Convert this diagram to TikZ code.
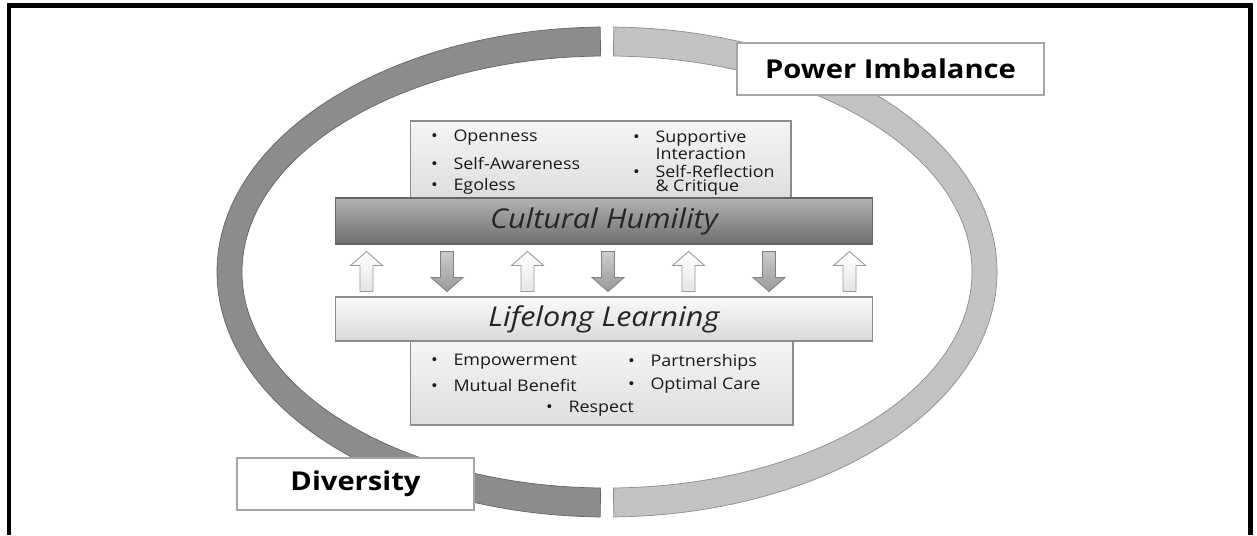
\documentclass[tikz,border=0pt]{standalone}
\usepackage{fontspec}
\setmainfont[FakeStretch=1.12]{Open Sans}
\usetikzlibrary{calc, positioning}
\newcommand\bul{\makebox[0.45cm][l]{\textbullet}}
\newcommand\nobul{\hspace*{0.45cm}}

\begin{document}
\begin{tikzpicture}[>=stealth, semithick, x=0.02cm, y=0.02cm]
    \tikzset{
        ringl/.style={fill=black!45, draw=black!60, line width=0.4pt},
        ringr/.style={fill=black!24, draw=black!45, line width=0.4pt},
        tagbox/.style={draw=black!35, line width=1.4pt, fill=white, inner sep=0pt,
            minimum height=1.04cm, font=\fontsize{14.8}{17}\selectfont\bfseries},
        listbox/.style={draw=black!45, line width=0.6pt, top color=black!4, bottom color=black!13, inner sep=0pt},
        item/.style={anchor=west, inner sep=0pt, align=left, text=black!90,
            font=\fontsize{9.1}{8}\selectfont},
        chbar/.style={draw=black!60, line width=0.6pt, top color=black!30, middle color=black!44,
            bottom color=black!57, inner sep=0pt, minimum width=10.76cm, minimum height=0.92cm,
            text=black!85, font=\fontsize{15.5}{18}\selectfont\itshape},
        llbar/.style={draw=black!45, line width=0.6pt, top color=black!2, bottom color=black!15,
            inner sep=0pt, minimum width=10.76cm, minimum height=0.88cm,
            text=black!85, font=\fontsize{15.5}{18}\selectfont\itshape},
        uparr/.style={draw=black!40, line width=0.5pt, top color=white, bottom color=black!10},
        downarr/.style={draw=black!50, line width=0.5pt, top color=black!20, bottom color=black!40}
    }
    \useasboundingbox (0,0) rectangle (1257,535);
    \draw[line width=0.1cm] (9,0) -- (9,529) -- (1250,529) -- (1250,0);

    \begin{scope}[shift={(607,263)}]
        \filldraw[ringl] (91:390 and 245) arc[start angle=91, end angle=269, x radius=390, y radius=245]
            -- (269:365 and 216) arc[start angle=269, end angle=91, x radius=365, y radius=216] -- cycle;
        \filldraw[ringr] (-89:390 and 245) arc[start angle=-89, end angle=89, x radius=390, y radius=245]
            -- (89:365 and 216) arc[start angle=89, end angle=-89, x radius=365, y radius=216] -- cycle;
    \end{scope}

    \node[tagbox, minimum width=6.14cm] (power) at (890.5,466) {Power Imbalance};
    \node[tagbox, minimum width=4.74cm] (div) at (355.5,51) {Diversity};

    \node[listbox, minimum width=7.62cm, minimum height=1.54cm] (top) at (600.5,375.5) {};
    \node[listbox, minimum width=7.66cm, minimum height=1.68cm] (bot) at (601.5,152) {};

    \node[chbar] (ch) at (604,314) {Cultural Humility};
    \node[llbar] (ll) at (604,216) {Lifelong Learning};

    \node[item] (open) at (430.5,397) {\bul Openness};
    \node[item] (aware) at (430.5,372) {\bul Self-Awareness};
    \node[item] (ego) at (430.5,349) {\bul Egoless};
    \node[item] (supp) at (632.5,390) {\bul Supportive\\\nobul Interaction};
    \node[item] (refl) at (632.5,355) {\bul Self-Reflection\\\nobul \& Critique};

    \node[item] (emp) at (430.5,173) {\bul Empowerment};
    \node[item] (mut) at (430.5,150) {\bul Mutual Benefit};
    \node[item] (part) at (627.5,173) {\bul Partnerships};
    \node[item] (care) at (627.5,150) {\bul Optimal Care};
    \node[item] (resp) at (545.5,126) {\bul Respect};

    \foreach \i in {0,...,6}
        \coordinate (a\i) at ($(ll.north west)+(32+80.5*\i,5)$);
    \foreach \i in {0,2,4,6}
        \draw[uparr, shift={(a\i)}] (-6.5,0) -- (-6.5,26) -- (-16,26) -- (0,40) -- (16,26) -- (6.5,26) -- (6.5,0) -- cycle;
    \foreach \i in {1,3,5}
        \draw[downarr, shift={(a\i)}] (-6.5,40) -- (-6.5,14) -- (-16,14) -- (0,0) -- (16,14) -- (6.5,14) -- (6.5,40) -- cycle;
\end{tikzpicture}
\end{document}
